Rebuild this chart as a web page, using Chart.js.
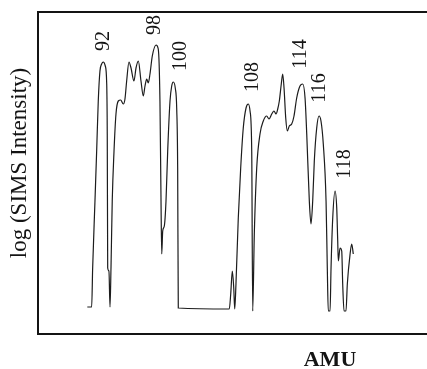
<!DOCTYPE html>
<html>
<head>
<meta charset="utf-8">
<script src="https://cdn.jsdelivr.net/npm/chart.js@4/dist/chart.umd.min.js"></script>
<style>
  html, body { margin: 0; padding: 0; background: #fff; }
  canvas { display: block; }
</style>
</head>
<body>
<canvas id="simsChart" width="427" height="369"></canvas>
<script>
// SIMS spectrum (AMU vs log intensity, arbitrary units)
const amu = [
    90.24, 90.73, 90.84, 91.10, 91.29, 91.47, 91.66, 91.85, 92.03, 92.26,
    92.42, 92.48, 92.53, 92.67, 92.79, 92.90, 93.04, 93.24, 93.46, 93.72,
    93.99, 94.28, 94.47, 94.66, 94.92, 95.15, 95.48, 95.71, 95.97, 96.27,
    96.53, 96.72, 96.91, 97.09, 97.28, 97.54, 97.96, 98.21, 98.40, 98.52,
    98.60, 98.71, 98.89, 99.08, 99.27, 99.53, 99.72, 99.90, 100.12, 100.28,
    100.39, 100.46, 106.19, 106.35, 106.53, 106.69, 106.80, 106.94, 107.20, 107.47,
    107.76, 108.07, 108.33, 108.52, 108.71, 108.82, 109.00, 109.27, 109.64, 110.01,
    110.39, 110.65, 110.96, 111.21, 111.44, 111.63, 111.81, 112.03, 112.19, 112.34,
    112.53, 112.71, 112.93, 113.20, 113.46, 113.76, 114.13, 114.44, 114.70, 114.89,
    115.18, 115.37, 115.56, 115.74, 116.01, 116.27, 116.49, 116.75, 117.06, 117.20,
    117.31, 117.51, 117.62, 117.81, 118.07, 118.26, 118.37, 118.44, 118.63, 118.82,
    118.93, 119.08, 119.30, 119.45, 119.76, 119.94, 120.12
];
const logIntensity = [
    0, 0, 39, 106, 156, 206, 236, 243, 245, 241,
    223, 173, 39, 36, 0, 39, 106, 156, 193, 206,
    207, 203, 208, 226, 245, 239, 226, 239, 246, 226,
    211, 221, 228, 224, 233, 251, 262, 258, 206, 106,
    53, 76, 81, 106, 156, 206, 221, 225, 219, 199,
    139, -1, -2, 13, 36, 19, -2, 23, 89, 139,
    179, 199, 203, 196, 156, -4, 73, 139, 173, 186,
    191, 188, 193, 196, 193, 198, 206, 223, 233, 219,
    189, 176, 181, 183, 191, 209, 221, 223, 209, 173,
    106, 83, 106, 146, 179, 191, 186, 163, 106, 39,
    -4, -4, 39, 89, 116, 99, 66, 46, 59, 56,
    23, -4, -4, 23, 53, 63, 53
];

// Peak annotations (text centre in data units)
const peakLabels = ['92', '98', '100', '108', '114', '116', '118'];
const peakLabelAmu = [92.11, 97.84, 100.76, 108.85, 114.25, 116.38, 119.19];
const peakLabelLevel = [266, 282, 251, 230, 253, 219, 143];

const axisMin = 84.7, axisMax = 128.4;
const levelMin = -27, levelMax = 295;

const serif = '"Liberation Serif", "DejaVu Serif", serif';
const ink = '#141414';

// Draw axis titles and peak labels
const annotationPlugin = {
    id: 'annotations',
    afterDraw(chart) {
        const ctx = chart.ctx;
        const xs = chart.scales.x;
        const ys = chart.scales.y;
        ctx.save();
        ctx.fillStyle = ink;
        ctx.textAlign = 'center';
        ctx.textBaseline = 'middle';

        // Peak labels, rotated
        ctx.font = '20px ' + serif;
        peakLabels.forEach((label, i) => {
            const px = xs.getPixelForValue(peakLabelAmu[i]);
            const py = ys.getPixelForValue(peakLabelLevel[i]);
            ctx.save();
            ctx.translate(px, py);
            ctx.rotate(-Math.PI / 2);
            ctx.fillText(label, 0, 0);
            ctx.restore();
        });

        // Y title
        ctx.font = '23px ' + serif;
        ctx.save();
        ctx.translate(20, 163);
        ctx.rotate(-Math.PI / 2);
        ctx.fillText('log (SIMS Intensity)', 0, 0);
        ctx.restore();

        // X title
        ctx.font = 'bold 22px ' + serif;
        ctx.textBaseline = 'alphabetic';
        ctx.fillText('AMU', 330, 366);
        ctx.restore();
    }
};

const hiddenAxis = (position, min, max) => ({
    type: 'linear',
    position: position,
    min: min,
    max: max,
    grid: { display: false },
    ticks: { display: false },
    border: { display: true, color: ink, width: 2 }
});

new Chart(document.getElementById('simsChart'), {
    type: 'line',
    data: {
        datasets: [{
            data: amu.map((m, i) => ({ x: m, y: logIntensity[i] })),
            borderColor: '#1c1c1c',
            borderWidth: 1.2,
            pointRadius: 0,
            cubicInterpolationMode: 'monotone',
            fill: false
        }]
    },
    options: {
        responsive: false,
        animation: false,
        layout: {
            // scales add a few px of their own, so these are trimmed
            padding: { left: 30, top: 4, right: 0, bottom: 27 }
        },
        plugins: {
            legend: { display: false },
            tooltip: { enabled: false }
        },
        scales: {
            x: hiddenAxis('bottom', axisMin, axisMax),
            xTop: hiddenAxis('top', axisMin, axisMax),
            y: hiddenAxis('left', levelMin, levelMax)
        }
    },
    plugins: [annotationPlugin]
});
</script>
</body>
</html>
